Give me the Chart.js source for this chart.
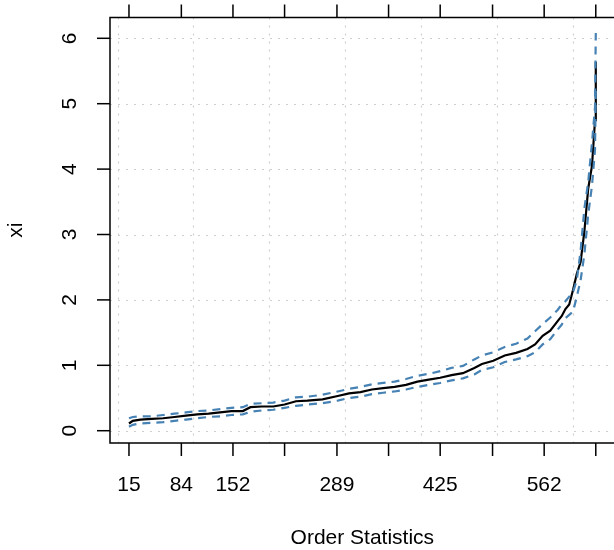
<!DOCTYPE html>
<html lang="en">
<head>
    <meta charset="UTF-8">
    <title>Order statistics plot</title>
    <script src="https://cdn.jsdelivr.net/npm/chart.js"></script>
    <style>
body {
    margin: 0;
    padding: 0;
    background: #fff;
}
canvas {
    display: block;
}
    </style>
</head>
<body>
    <canvas id="orderPlot" width="614" height="550"></canvas>
    <script>
        // order statistic index and the estimate with its band
        const orderStats = [15, 20, 30, 45, 60, 75, 90, 105, 120, 135, 150, 165, 175, 190, 205, 220, 235, 250, 270, 290,
            305, 320, 335, 350, 365, 380, 395, 410, 425, 440, 455, 470, 480, 495, 510, 525, 540, 550, 560, 570,
            580, 585, 590, 595, 600, 605, 610, 615, 620, 625, 629, 630];
        const xiEstimate = [0.11, 0.15, 0.17, 0.18, 0.19, 0.21, 0.23, 0.25, 0.26, 0.28, 0.30, 0.30, 0.36, 0.37, 0.37, 0.40, 0.45, 0.46, 0.48, 0.53,
            0.57, 0.59, 0.63, 0.65, 0.67, 0.70, 0.75, 0.78, 0.81, 0.85, 0.88, 0.96, 1.02, 1.07, 1.15, 1.19, 1.25, 1.32, 1.45, 1.53,
            1.68, 1.75, 1.86, 1.93, 2.15, 2.40, 2.58, 3.05, 3.70, 4.05, 4.75, 5.64];
        const xiUpper = [0.19, 0.21, 0.22, 0.22, 0.24, 0.26, 0.28, 0.30, 0.31, 0.33, 0.35, 0.36, 0.41, 0.42, 0.43, 0.46, 0.51, 0.52, 0.55, 0.60,
            0.64, 0.67, 0.71, 0.73, 0.75, 0.79, 0.84, 0.87, 0.91, 0.96, 0.99, 1.09, 1.15, 1.20, 1.28, 1.33, 1.41, 1.52, 1.63, 1.73,
            1.85, 1.93, 1.98, 2.05, 2.12, 2.30, 2.75, 3.40, 3.80, 4.40, 4.95, 6.08];
        const xiLower = [0.06, 0.09, 0.11, 0.12, 0.13, 0.15, 0.17, 0.19, 0.21, 0.22, 0.24, 0.25, 0.29, 0.31, 0.32, 0.35, 0.38, 0.40, 0.42, 0.46,
            0.50, 0.52, 0.56, 0.58, 0.60, 0.63, 0.67, 0.70, 0.73, 0.77, 0.80, 0.86, 0.93, 0.97, 1.05, 1.09, 1.14, 1.20, 1.32, 1.40,
            1.55, 1.62, 1.72, 1.77, 1.82, 2.05, 2.30, 2.70, 3.30, 3.75, 4.30, 5.20];

        const xTickValues = [15, 84, 152, 220, 289, 357, 425, 494, 562, 630];
        const xTickLabels = ['15', '84', '152', '', '289', '', '425', '', '562', ''];
        const yTickValues = [0, 1, 2, 3, 4, 5, 6];
        const xGridValues = [0, 100, 200, 300, 400, 500, 600];

        const font = '21px "Liberation Sans", Arial, sans-serif';

        const toPoints = (ys) => orderStats.map((x, i) => ({ x: x, y: ys[i] }));

        // R style box, ticks and labels drawn from the chart scales
        const rAxes = {
            id: 'rAxes',
            beforeDatasetsDraw(chart) {
                const { ctx, chartArea, scales } = chart;
                ctx.save();
                ctx.strokeStyle = '#cfcfcf';
                ctx.lineWidth = 1.2;
                ctx.setLineDash([2, 6]);
                xGridValues.forEach(v => {
                    const px = Math.round(scales.x.getPixelForValue(v)) + 0.5;
                    ctx.beginPath();
                    ctx.moveTo(px, chartArea.top);
                    ctx.lineTo(px, chartArea.bottom);
                    ctx.stroke();
                });
                yTickValues.forEach(v => {
                    const py = Math.round(scales.y.getPixelForValue(v)) + 0.5;
                    ctx.beginPath();
                    ctx.moveTo(chartArea.left, py);
                    ctx.lineTo(chartArea.right, py);
                    ctx.stroke();
                });
                ctx.restore();
            },
            afterDraw(chart) {
                const { ctx, chartArea, scales } = chart;
                const tick = 13;
                ctx.save();
                ctx.strokeStyle = '#000';
                ctx.lineWidth = 1.5;
                ctx.strokeRect(chartArea.left, chartArea.top, chartArea.right - chartArea.left + 3, chartArea.bottom - chartArea.top);

                ctx.fillStyle = '#000';
                ctx.font = font;
                ctx.textAlign = 'center';
                ctx.textBaseline = 'middle';

                xTickValues.forEach((v, i) => {
                    const px = scales.x.getPixelForValue(v);
                    ctx.beginPath();
                    ctx.moveTo(px, chartArea.bottom);
                    ctx.lineTo(px, chartArea.bottom + tick);
                    ctx.moveTo(px, chartArea.top);
                    ctx.lineTo(px, chartArea.top - tick);
                    ctx.stroke();
                    if (xTickLabels[i]) {
                        ctx.fillText(xTickLabels[i], px, 485);
                    }
                });

                yTickValues.forEach(v => {
                    const py = scales.y.getPixelForValue(v);
                    ctx.beginPath();
                    ctx.moveTo(chartArea.left, py);
                    ctx.lineTo(chartArea.left - tick, py);
                    ctx.stroke();
                    ctx.save();
                    ctx.translate(70, py);
                    ctx.rotate(-Math.PI / 2);
                    ctx.fillText(String(v), 0, 0);
                    ctx.restore();
                });

                ctx.fillText('Order Statistics', (chartArea.left + 614.7) / 2, 538);
                ctx.save();
                ctx.translate(16, (chartArea.top + chartArea.bottom) / 2);
                ctx.rotate(-Math.PI / 2);
                ctx.fillText('xi', 0, 0);
                ctx.restore();
                ctx.restore();
            }
        };

        const ctx = document.getElementById('orderPlot').getContext('2d');

        const orderPlot = new Chart(ctx, {
            type: 'line',
            data: {
                datasets: [
                    {
                        label: 'upper',
                        data: toPoints(xiUpper),
                        borderColor: '#4682b4',
                        borderWidth: 2.2,
                        borderDash: [8, 6],
                        pointRadius: 0,
                        fill: false
                    },
                    {
                        label: 'lower',
                        data: toPoints(xiLower),
                        borderColor: '#4682b4',
                        borderWidth: 2.2,
                        borderDash: [8, 6],
                        pointRadius: 0,
                        fill: false
                    },
                    {
                        label: 'xi',
                        data: toPoints(xiEstimate),
                        borderColor: '#000',
                        borderWidth: 2.2,
                        pointRadius: 0,
                        fill: false
                    }
                ]
            },
            options: {
                responsive: false,
                animation: false,
                layout: {
                    padding: { left: 110, top: 17.5, right: 0, bottom: 107 }
                },
                plugins: {
                    legend: { display: false },
                    tooltip: { enabled: false }
                },
                scales: {
                    x: {
                        type: 'linear',
                        display: false,
                        min: -10,
                        max: 654
                    },
                    y: {
                        type: 'linear',
                        display: false,
                        min: -0.188,
                        max: 6.318
                    }
                }
            },
            plugins: [rAxes]
        });
    </script>
</body>
</html>
